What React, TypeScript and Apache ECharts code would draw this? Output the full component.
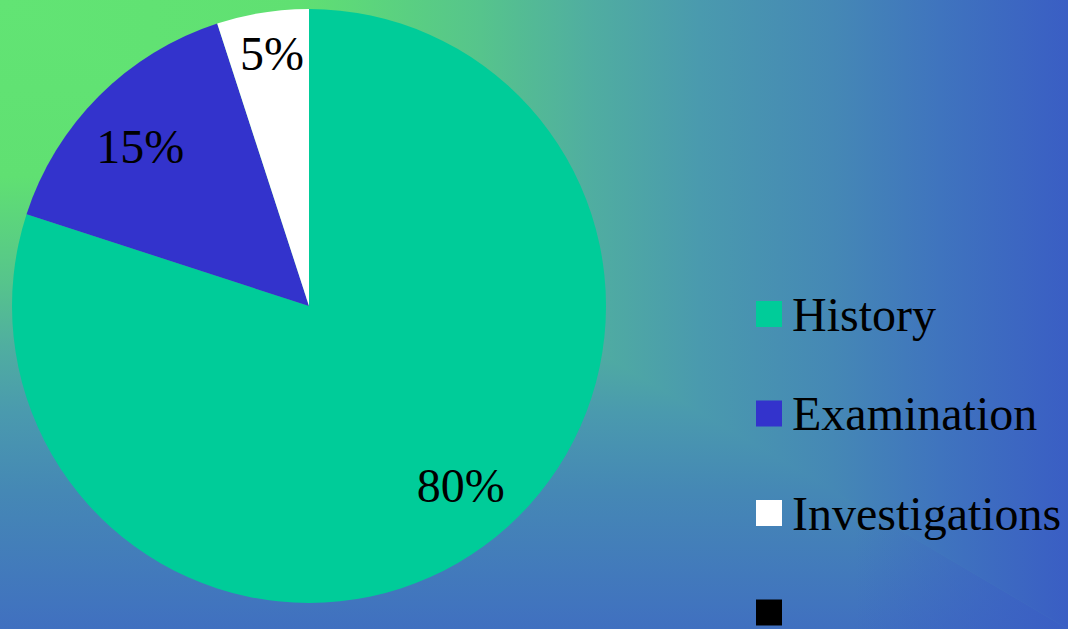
import React, { useEffect, useRef } from "react";
import * as echarts from "echarts";

const categories = ["History", "Examination", "Investigations", " "];
const values = [80, 15, 5, 0];
const colors = ["#00CC99", "#3333CC", "#FFFFFF", "#000000"];
const labels = ["80%", "15%", "5%", ""];
const labelOffsets = [[9, -17], [3, 12], [1, -12], [0, 0]];

const W = 1068;
const H = 629;

export default function App() {
  const ref = useRef<HTMLDivElement>(null);
  useEffect(() => {
    if (!ref.current) return;
    const chart = echarts.init(ref.current, null, { renderer: "svg" });
    const font = "'Liberation Serif', 'Times New Roman', serif";
    const mainData = categories.map((name, i) => ({
      name,
      value: values[i],
      itemStyle: { color: colors[i] },
    }));
    const labelData = categories.map((name, i) => ({
      name,
      value: values[i],
      label: { show: labels[i] !== "", formatter: labels[i], offset: labelOffsets[i] },
    }));
    const common = [
      { offset: 0, color: "#62E474" },
      { offset: 0.28, color: "#60E072" },
      { offset: 0.45, color: "#56C48C" },
      { offset: 0.55, color: "#50AEA0" },
      { offset: 0.655, color: "#4A9AAE" },
      { offset: 0.78, color: "#4588B5" },
    ];
    const vGrad = new echarts.graphic.LinearGradient(0, 0, 0, 1, [
      ...common,
      { offset: 1, color: "#4070C0" },
    ]);
    const hGrad = new echarts.graphic.LinearGradient(0, 0, 1, 0, [
      ...common,
      { offset: 0.88, color: "#3F74BE" },
      { offset: 1, color: "#3A5EC4" },
    ]);
    const shadeGrad = new echarts.graphic.LinearGradient(0, 0, 1, 0, [
      { offset: 0, color: "rgba(58,94,196,0)" },
      { offset: 0.8, color: "rgba(58,94,196,0)" },
      { offset: 1, color: "rgba(58,94,196,1)" },
    ]);
    chart.setOption({
      animation: false,
      backgroundColor: "transparent",
      graphic: {
        elements: [
          {
            type: "rect",
            z: -10,
            silent: true,
            shape: { x: 0, y: 0, width: W, height: H },
            style: { fill: vGrad },
          },
          {
            type: "polygon",
            z: -9,
            silent: true,
            shape: { points: [[0, 0], [0, H], [W, H]] },
            style: { fill: shadeGrad },
          },
          {
            type: "polygon",
            z: -8,
            silent: true,
            shape: { points: [[0, 0], [W, 0], [W, H]] },
            style: { fill: hGrad },
          },
        ],
      },
      legend: {
        orient: "vertical",
        left: 756,
        top: 290,
        height: 420,
        padding: 0,
        itemWidth: 26,
        itemHeight: 26,
        itemGap: 51.5,
        icon: "rect",
        selectedMode: false,
        data: categories,
        textStyle: {
          fontFamily: font,
          fontSize: 48,
          color: "#000",
          lineHeight: 48,
          padding: [0, 0, 0, 5],
        },
      },
      series: [
        {
          type: "pie",
          center: [309, 306],
          radius: [0, 297],
          startAngle: 90,
          clockwise: true,
          silent: true,
          label: { show: false },
          labelLine: { show: false },
          itemStyle: { borderWidth: 0 },
          emphasis: { disabled: true },
          data: mainData,
        },
        {
          type: "pie",
          center: [309, 306],
          radius: [183, 297],
          startAngle: 90,
          clockwise: true,
          silent: true,
          legendHoverLink: false,
          itemStyle: { color: "rgba(0,0,0,0)", borderWidth: 0 },
          label: {
            show: true,
            position: "inside",
            fontFamily: font,
            fontSize: 48,
            color: "#000",
          },
          labelLine: { show: false },
          emphasis: { disabled: true },
          data: labelData,
        },
      ],
    });
    return () => chart.dispose();
  }, []);
  return (
    <div
      ref={ref}
      style={{
        position: "absolute",
        left: 0,
        top: 0,
        width: W,
        height: H,
      }}
    />
  );
}
